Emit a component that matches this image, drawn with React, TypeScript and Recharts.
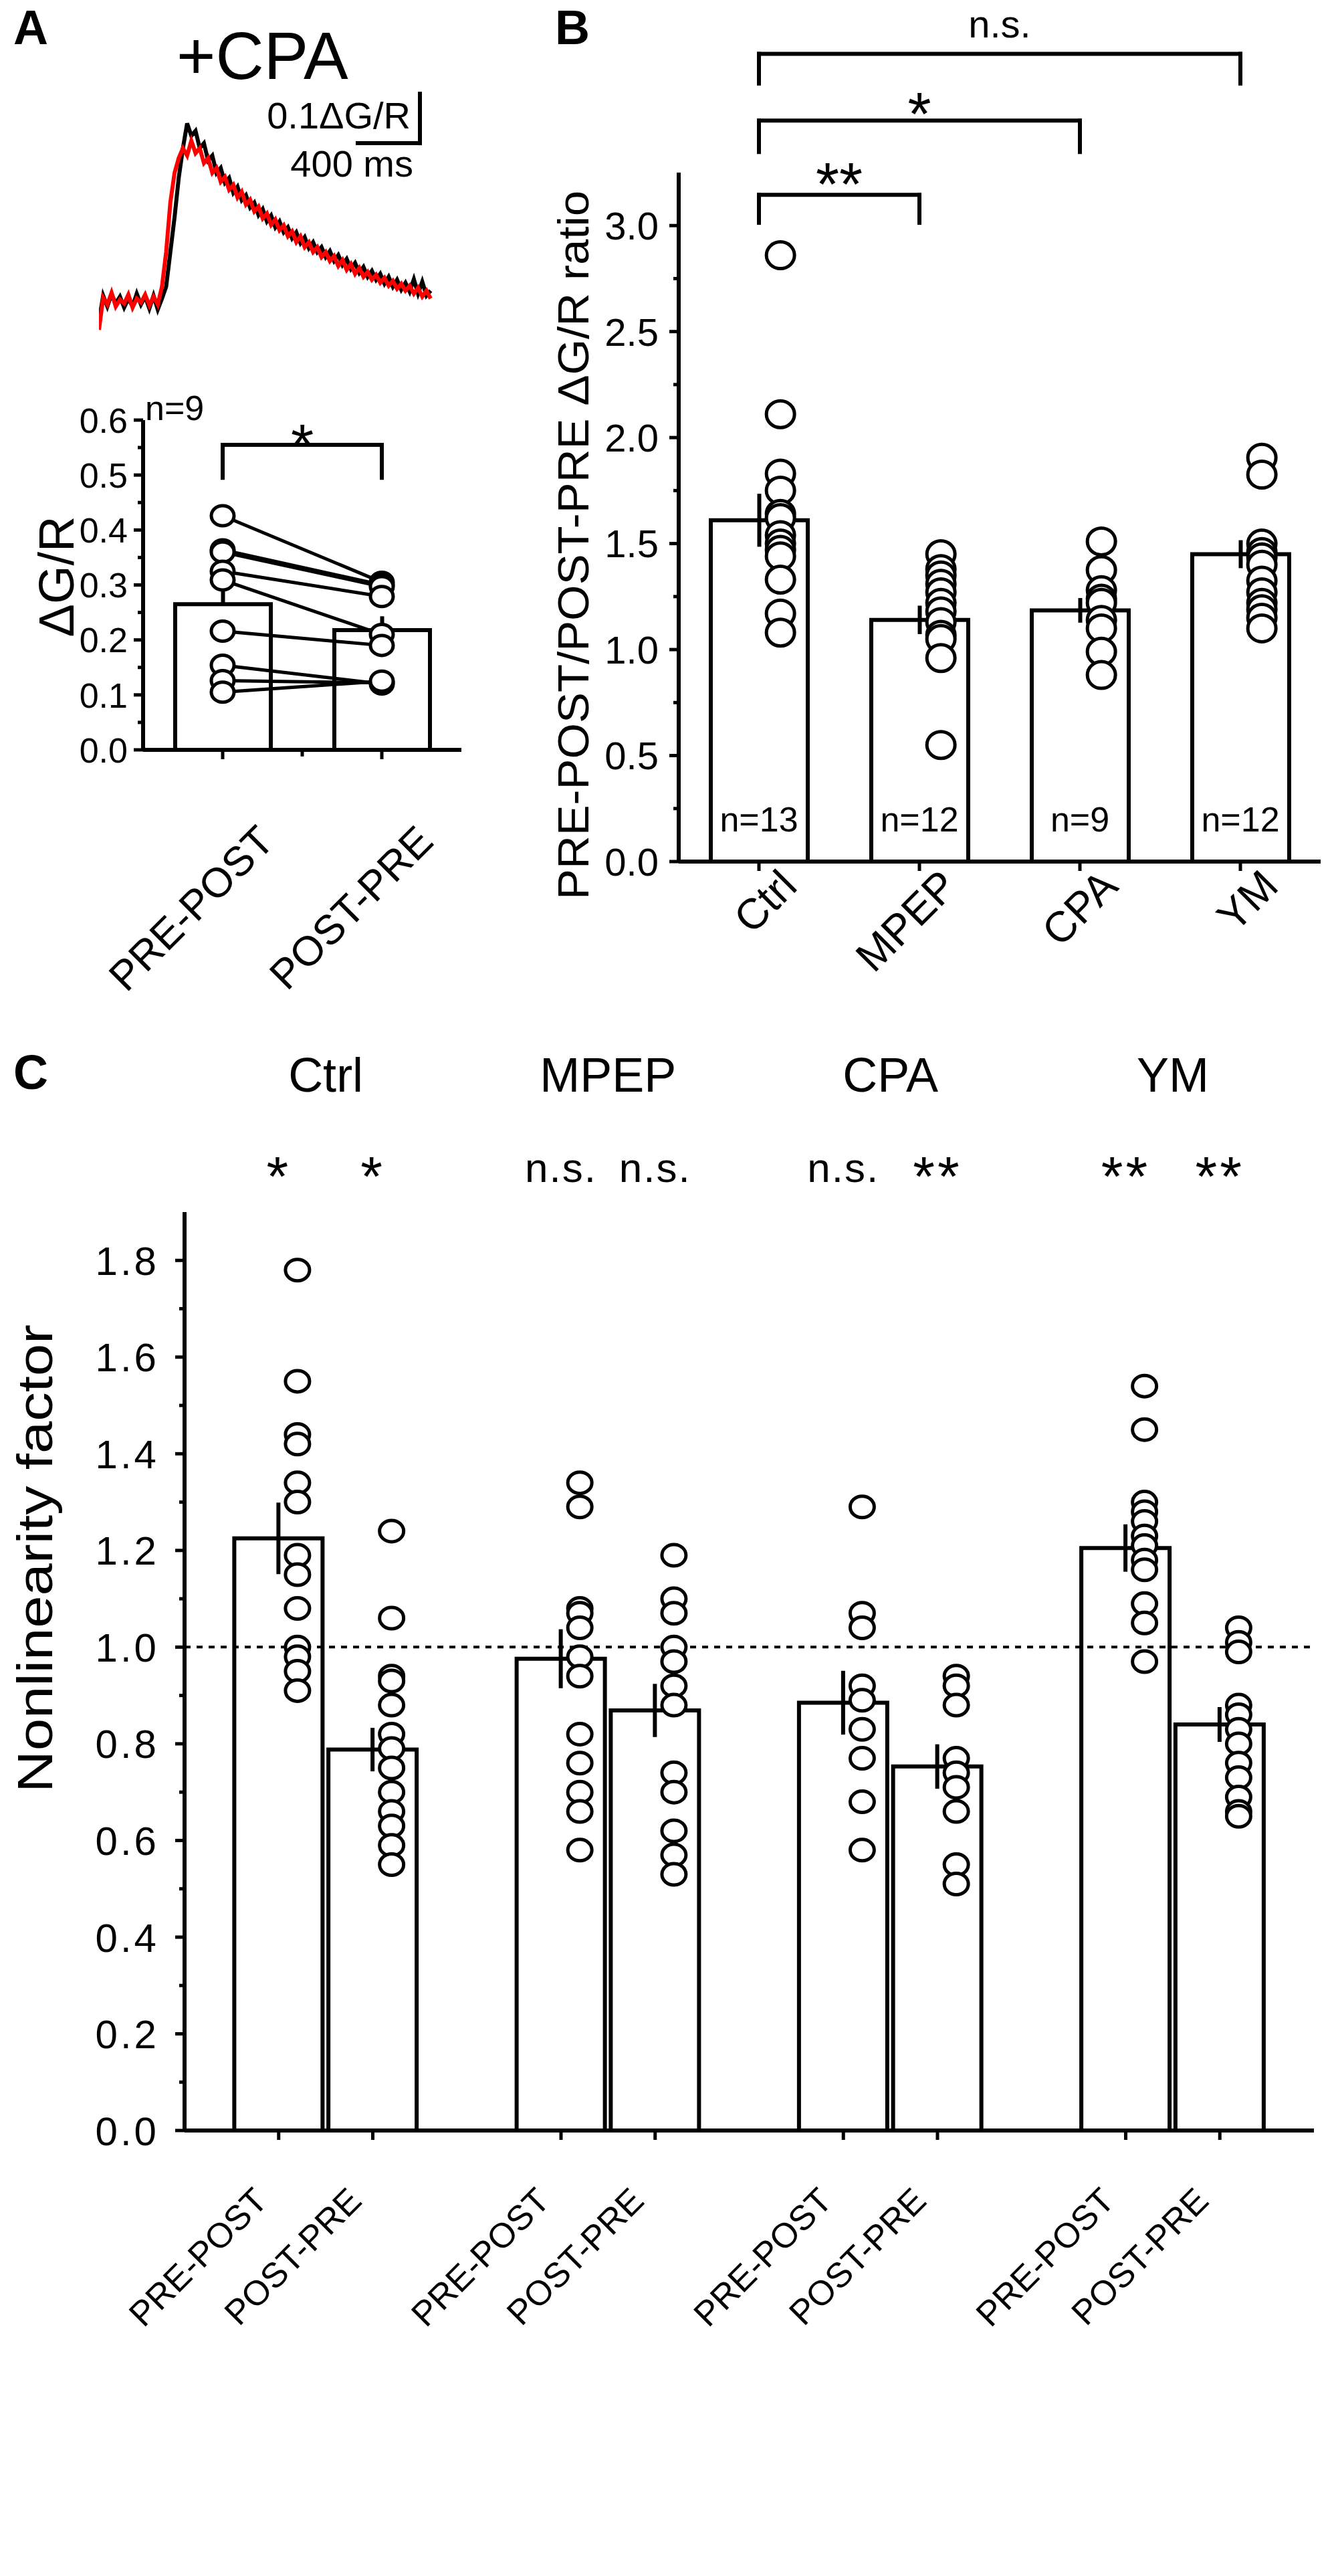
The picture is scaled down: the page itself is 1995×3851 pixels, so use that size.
import React from "react";
import {
  ComposedChart,
  LineChart,
  Line,
  Bar,
  Scatter,
  XAxis,
  YAxis,
  ErrorBar,
  ReferenceLine,
} from "recharts";

const FONT = "'Liberation Sans', Arial, Helvetica, sans-serif";

// ---------- panel A: example traces (+CPA), time in ms, ΔG/R ----------
const traceTime = [
  0, 27, 54, 81, 108, 135, 162, 189, 216, 243, 270, 297, 324, 351, 378, 405,
  432, 459, 486, 513, 540, 567, 594, 621, 648, 675, 702, 729, 756, 783, 810, 837,
  864, 891, 918, 945, 972, 999, 1026, 1053, 1080, 1107, 1134, 1161, 1188, 1215, 1242, 1269,
  1296, 1323, 1350, 1377, 1404, 1431, 1458, 1485, 1512, 1539, 1566, 1593, 1620, 1647, 1674, 1701,
  1728, 1755, 1782, 1809, 1836, 1863, 1890, 1917, 1944, 1971, 1998, 2025, 2052, 2079, 2106, 2133,
];
const tracePrePost = [
  -0.04, 0.012, -0.01, 0.015, -0.004, 0.01, -0.012, 0.006, -0.01, 0.016, -0.006, 0.01, -0.014, 0.012, -0.016, 0.006,
  0.03, 0.1, 0.17, 0.25, 0.31, 0.36, 0.335, 0.345, 0.31, 0.32, 0.285, 0.295, 0.26, 0.27, 0.24, 0.25,
  0.22, 0.232, 0.205, 0.215, 0.19, 0.2, 0.175, 0.187, 0.162, 0.174, 0.15, 0.162, 0.14, 0.15, 0.128, 0.14,
  0.118, 0.13, 0.108, 0.12, 0.1, 0.11, 0.09, 0.102, 0.082, 0.094, 0.074, 0.086, 0.066, 0.078, 0.058, 0.07,
  0.05, 0.062, 0.044, 0.056, 0.036, 0.05, 0.03, 0.044, 0.024, 0.038, 0.02, 0.045, 0.016, 0.04, 0.012, 0.022,
];
const tracePostPre = [
  -0.057, 0.008, -0.006, 0.018, -0.01, 0.004, -0.004, 0.014, -0.012, 0.006, -0.002, 0.014, -0.008, 0.01, -0.006, 0.03,
  0.1, 0.2, 0.26, 0.29, 0.31, 0.295, 0.325, 0.3, 0.31, 0.28, 0.29, 0.26, 0.27, 0.242, 0.252, 0.226,
  0.236, 0.21, 0.222, 0.196, 0.206, 0.182, 0.192, 0.168, 0.178, 0.155, 0.166, 0.144, 0.154, 0.132, 0.142, 0.12,
  0.132, 0.11, 0.12, 0.1, 0.11, 0.09, 0.1, 0.082, 0.092, 0.072, 0.084, 0.064, 0.076, 0.056, 0.068, 0.05,
  0.06, 0.044, 0.054, 0.038, 0.048, 0.032, 0.042, 0.026, 0.036, 0.022, 0.032, 0.016, 0.028, 0.01, 0.022, 0.006,
];
// scale bar: 0.1 ΔG/R, 400 ms
const scaleBar = { t0: 1664, t1: 2064, v0: 0.32, v1: 0.42 };

// ---------- panel A: paired ΔG/R ----------
const pairCats = ["PRE-POST", "POST-PRE"];
const cpaPre = [0.426, 0.364, 0.36, 0.325, 0.309, 0.216, 0.154, 0.126, 0.105];
const cpaPost = [0.305, 0.3, 0.297, 0.279, 0.21, 0.19, 0.12, 0.122, 0.125];
const cpaMeans = [0.265, 0.218];
const cpaSem = [0.031, 0.025];
const aTicks = [0, 0.05, 0.1, 0.15, 0.2, 0.25, 0.3, 0.35, 0.4, 0.45, 0.5, 0.55, 0.6];

// ---------- panel B: ratio ----------
const ratioCats = ["Ctrl", "MPEP", "CPA", "YM"];
const ratioMeans = [1.61, 1.14, 1.185, 1.45];
const ratioSem = [0.125, 0.067, 0.058, 0.066];
const ratioN = ["n=13", "n=12", "n=9", "n=12"];
const ratioCtrl = [2.86, 2.11, 1.83, 1.75, 1.64, 1.62, 1.54, 1.5, 1.47, 1.44, 1.33, 1.17, 1.08];
const ratioMpep = [1.45, 1.38, 1.35, 1.31, 1.27, 1.22, 1.18, 1.13, 1.07, 1.05, 0.96, 0.55];
const ratioCpa = [1.51, 1.375, 1.28, 1.24, 1.22, 1.14, 1.1, 0.99, 0.88];
const ratioYm = [1.905, 1.825, 1.5, 1.46, 1.435, 1.4, 1.325, 1.27, 1.22, 1.19, 1.15, 1.1];
const bTicks = [0, 0.25, 0.5, 0.75, 1, 1.25, 1.5, 1.75, 2, 2.25, 2.5, 2.75, 3];
// brackets: [from, to, top value, leg-end value, label]
const bBrackets = [
  ["Ctrl", "YM", 3.81, 3.67, "n.s."],
  ["Ctrl", "CPA", 3.495, 3.347, "*"],
  ["Ctrl", "MPEP", 3.145, 3.013, "**"],
];

// ---------- panel C: nonlinearity factor ----------
const nlGroups = ["Ctrl", "MPEP", "CPA", "YM"];
const nlConds = ["PRE-POST", "POST-PRE"];
const nlMeans = [1.225, 0.788, 0.976, 0.869, 0.885, 0.753, 1.205, 0.84];
const nlSem = [0.074, 0.045, 0.061, 0.055, 0.066, 0.046, 0.049, 0.036];
const nlSig = ["*", "*", "n.s.", "n.s.", "n.s.", "**", "**", "**"];
const nlPoints = [
  [1.78, 1.55, 1.44, 1.42, 1.34, 1.3, 1.19, 1.15, 1.08, 1.0, 0.98, 0.95, 0.91],
  [1.24, 1.06, 0.94, 0.93, 0.88, 0.82, 0.79, 0.75, 0.7, 0.66, 0.63, 0.59, 0.55],
  [1.34, 1.29, 1.08, 1.07, 1.04, 0.98, 0.94, 0.82, 0.76, 0.7, 0.66, 0.58],
  [1.19, 1.1, 1.07, 1.0, 0.97, 0.92, 0.88, 0.74, 0.7, 0.62, 0.57, 0.53],
  [1.29, 1.07, 1.04, 0.92, 0.89, 0.83, 0.77, 0.68, 0.58],
  [0.94, 0.92, 0.88, 0.77, 0.74, 0.71, 0.66, 0.55, 0.51],
  [1.54, 1.45, 1.3, 1.28, 1.26, 1.23, 1.21, 1.18, 1.16, 1.09, 1.05, 0.97],
  [1.04, 1.01, 0.99, 0.88, 0.86, 0.83, 0.8, 0.76, 0.73, 0.69, 0.66, 0.65],
];
const cTicks = [0, 0.1, 0.2, 0.3, 0.4, 0.5, 0.6, 0.7, 0.8, 0.9, 1, 1.1, 1.2, 1.3, 1.4, 1.5, 1.6, 1.7, 1.8];

// ---------- tables built from the arrays ----------
const traceData = traceTime.map((t, i) => ({ t, pp: tracePrePost[i], ppr: tracePostPre[i] }));

const pairData = pairCats.map((name, k) => {
  const row: any = { name, mean: cpaMeans[k], err: [0, cpaSem[k]] };
  (k === 0 ? cpaPre : cpaPost).forEach((v, i) => (row["s" + i] = v));
  return row;
});

const ratioData = ratioCats.map((name, k) => ({ name, mean: ratioMeans[k], sem: ratioSem[k] }));
const ratioPts = [ratioCtrl, ratioMpep, ratioCpa, ratioYm].flatMap((vals, k) =>
  vals.map((y) => ({ x: k + 0.134, y }))
);

const nlData: any[] = [];
const nlPts: any[] = [];
const nlSlots: number[] = [];
nlGroups.forEach((g, gi) => {
  nlConds.forEach((c, ci) => {
    const k = gi * 2 + ci;
    nlData.push({ key: "c" + nlData.length, label: c, mean: nlMeans[k], sem: nlSem[k] });
    const slot = nlData.length;
    nlSlots.push(slot);
    nlPoints[k].forEach((y) => nlPts.push({ x: slot + 0.2, y }));
  });
  if (gi < nlGroups.length - 1) nlData.push({ key: "c" + nlData.length, label: "", mean: null, sem: null });
});

// ---------- layout (page pixels) ----------
const A = { left: 214, right: 690, top: 628, bottom: 1121 };
const B = { left: 1015, right: 1975, top: 258, bottom: 1288 };
const C = { left: 276, right: 1965, top: 1812, bottom: 3185 };
const bBand = (B.right - B.left) / ratioCats.length;
const cUnit = (C.right - C.left) / 12;

// ---------- shared bits ----------
const axisLine = { stroke: "#000", strokeWidth: 6 };

function yTick(isMajor: (v: number) => boolean, fs: number, gap: number, majLen: number, minLen: number, ls = 0) {
  return (props: any) => {
    const { x, y, payload } = props;
    const v = payload.value;
    const major = isMajor(v);
    const len = major ? majLen : minLen;
    return (
      <g>
        <line x1={x - len} x2={x} y1={y} y2={y} stroke="#000" strokeWidth={5} />
        {major && (
          <text x={x - majLen - gap} y={y} dy="0.36em" textAnchor="end" fontSize={fs}
            fontFamily={FONT} fill="#000" letterSpacing={ls}>
            {v.toFixed(1)}
          </text>
        )}
      </g>
    );
  };
}

function xTick(labelOf: (v: any) => string, fs: number, dx: number, dy: number, len: number) {
  return (props: any) => {
    const { x, y, payload } = props;
    const label = labelOf(payload.value);
    if (!label) return <g />;
    const tx = x + dx;
    const ty = y + dy;
    return (
      <g>
        <line x1={x} x2={x} y1={y} y2={y + len} stroke="#000" strokeWidth={5} />
        <text x={tx} y={ty} textAnchor="end" transform={`rotate(-45 ${tx} ${ty})`}
          fontSize={fs} fontFamily={FONT} fill="#000">
          {label}
        </text>
      </g>
    );
  };
}

const ring = (r: number, ry: number, sw: number) => (props: any) => {
  const { cx, cy } = props;
  if (cx == null || cy == null) return <g />;
  return <ellipse cx={cx} cy={cy} rx={r} ry={ry} fill="#fff" stroke="#000" strokeWidth={sw} />;
};

const bracketLine = { stroke: "#000", strokeWidth: 6, strokeLinecap: "square" as const, ifOverflow: "visible" as const };

const T = (p: any) => (
  <text fontFamily={FONT} fill="#000" {...p}>
    {p.children}
  </text>
);

export default function App() {
  const aTop = 560;
  const bTop = 0;
  const cTop = 1690;
  return (
    <div style={{ position: "absolute", left: 0, top: 0, width: 1995, height: 3851, background: "#fff" }}>
      {/* A: traces */}
      <div style={{ position: "absolute", left: 148, top: 7 }}>
        <LineChart width={500} height={503} data={traceData} margin={{ top: 0, right: 0, bottom: 0, left: 0 }}>
          <XAxis dataKey="t" type="number" domain={[0, 2150]} hide />
          <YAxis type="number" domain={[-0.08, 0.6]} hide />
          <Line dataKey="pp" stroke="#000" strokeWidth={6} dot={false} isAnimationActive={false} />
          <Line dataKey="ppr" stroke="#ff0000" strokeWidth={6} dot={false} isAnimationActive={false} />
          <ReferenceLine segment={[{ x: scaleBar.t1, y: scaleBar.v0 }, { x: scaleBar.t1, y: scaleBar.v1 }]} {...bracketLine} />
          <ReferenceLine segment={[{ x: scaleBar.t0, y: scaleBar.v0 }, { x: scaleBar.t1, y: scaleBar.v0 }]} {...bracketLine} />
        </LineChart>
      </div>

      {/* A: paired bars */}
      <div style={{ position: "absolute", left: 0, top: aTop }}>
        <ComposedChart width={760} height={1000} data={pairData}
          margin={{ top: A.top - aTop, right: 760 - A.right, bottom: 20, left: 0 }}>
          <XAxis dataKey="name" height={1000 - 20 - (A.bottom - aTop)} axisLine={axisLine} tickLine={false}
            tickSize={0} tickMargin={0} interval={0} tick={xTick((v) => v, 62, 80, 140, 14)} />
          <XAxis xAxisId="mid" type="number" domain={[-0.5, 1.5]} hide />
          <YAxis type="number" domain={[0, 0.6]} ticks={aTicks} width={A.left} interval={0} axisLine={axisLine}
            tickLine={false} tickSize={0} tickMargin={0}
            tick={yTick((v) => Math.round(v * 100) % 10 === 0, 52, 9, 14, 8)} />
          <Bar dataKey="mean" fill="#fff" stroke="#000" strokeWidth={6} barSize={143} isAnimationActive={false}>
            <ErrorBar dataKey="err" width={0} stroke="#000" strokeWidth={6} direction="y" />
          </Bar>
          {cpaPre.map((_, i) => (
            <Line key={i} dataKey={"s" + i} stroke="#000" strokeWidth={5} dot={ring(17, 15, 5)}
              isAnimationActive={false} />
          ))}
          <ReferenceLine xAxisId="mid" segment={[{ x: 0.5, y: 0 }, { x: 0.5, y: -0.012 }]} stroke="#000"
            strokeWidth={5} ifOverflow="visible" />
          <ReferenceLine segment={[{ x: "PRE-POST", y: 0.495 }, { x: "PRE-POST", y: 0.555 }]} {...bracketLine} />
          <ReferenceLine segment={[{ x: "PRE-POST", y: 0.555 }, { x: "POST-PRE", y: 0.555 }]} {...bracketLine} />
          <ReferenceLine segment={[{ x: "POST-PRE", y: 0.495 }, { x: "POST-PRE", y: 0.555 }]} {...bracketLine} />
        </ComposedChart>
      </div>

      {/* B: ratio */}
      <div style={{ position: "absolute", left: 860, top: bTop }}>
        <ComposedChart width={1135} height={1560} data={ratioData}
          margin={{ top: B.top - bTop, right: 1995 - B.right, bottom: 24, left: 0 }}>
          <XAxis dataKey="name" height={1560 - 24 - B.bottom} axisLine={axisLine} tickLine={false} tickSize={0}
            tickMargin={0} interval={0} tick={xTick((v) => v, 64, 60, 40, 14)} />
          <XAxis xAxisId="pts" dataKey="x" type="number" domain={[-0.5, 3.5]} allowDataOverflow hide />
          <YAxis type="number" domain={[0, 3.25]} ticks={bTicks} width={B.left - 860} interval={0} axisLine={axisLine}
            tickLine={false} tickSize={0} tickMargin={0} allowDataOverflow
            tick={yTick((v) => Math.round(v * 100) % 50 === 0, 58, 16, 14, 8)} />
          <Bar dataKey="mean" fill="#fff" stroke="#000" strokeWidth={6} barSize={145} isAnimationActive={false}>
            <ErrorBar dataKey="sem" width={0} stroke="#000" strokeWidth={6} direction="y" />
          </Bar>
          <Scatter xAxisId="pts" data={ratioPts} dataKey="y" shape={ring(21, 20, 5)} isAnimationActive={false} />
          {bBrackets.map(([a, b, top, leg], i) => (
            <React.Fragment key={i}>
              <ReferenceLine segment={[{ x: a, y: leg }, { x: a, y: top }]} {...bracketLine} />
              <ReferenceLine segment={[{ x: a, y: top }, { x: b, y: top }]} {...bracketLine} />
              <ReferenceLine segment={[{ x: b, y: leg }, { x: b, y: top }]} {...bracketLine} />
            </React.Fragment>
          ))}
        </ComposedChart>
      </div>

      {/* C: nonlinearity */}
      <div style={{ position: "absolute", left: 0, top: cTop }}>
        <ComposedChart width={1995} height={3851 - cTop} data={nlData}
          margin={{ top: C.top - cTop, right: 1995 - C.right, bottom: 26, left: 0 }}>
          <XAxis dataKey="key" height={3851 - cTop - 26 - (C.bottom - cTop)} axisLine={axisLine} tickLine={false}
            tickSize={0} tickMargin={0} interval={0} padding={{ left: cUnit / 2, right: cUnit / 2 }}
            tick={xTick((v) => (nlData.find((d) => d.key === v) || {}).label, 52, -14, 108, 14)} />
          <XAxis xAxisId="pts" dataKey="x" type="number" domain={[0, 12]} allowDataOverflow hide />
          <YAxis type="number" domain={[0, 1.9]} ticks={cTicks} width={C.left} interval={0} axisLine={axisLine}
            tickLine={false} tickSize={0} tickMargin={0} allowDataOverflow
            tick={yTick((v) => Math.round(v * 10) % 2 === 0, 60, 24, 14, 8, 4)} />
          <ReferenceLine y={1} stroke="#000" strokeWidth={4} strokeDasharray="9 9" />
          <Bar dataKey="mean" fill="#fff" stroke="#000" strokeWidth={6} barSize={132} isAnimationActive={false}>
            <ErrorBar dataKey="sem" width={0} stroke="#000" strokeWidth={6} direction="y" />
          </Bar>
          <Scatter xAxisId="pts" data={nlPts} dataKey="y" shape={ring(18, 16, 5)} isAnimationActive={false} />
        </ComposedChart>
      </div>

      {/* text overlay */}
      <svg width={1995} height={3851} style={{ position: "absolute", left: 0, top: 0, pointerEvents: "none" }}>
        <T x={20} y={66} fontSize={72} fontWeight="bold">A</T>
        <T x={264} y={118} fontSize={100}>+CPA</T>
        <T x={614} y={192} fontSize={56} textAnchor="end">0.1ΔG/R</T>
        <T x={618} y={264} fontSize={56} textAnchor="end">400 ms</T>
        <T x={217} y={628} fontSize={52}>n=9</T>
        <T x={(A.left + A.right) / 2} y={695} fontSize={88} textAnchor="middle">*</T>
        <T x={110} y={862} fontSize={74} textAnchor="middle" transform="rotate(-90 110 862)">ΔG/R</T>

        <T x={830} y={66} fontSize={72} fontWeight="bold">B</T>
        <T x={880} y={815} fontSize={64} textAnchor="middle" textLength={1060} lengthAdjust="spacingAndGlyphs"
          transform="rotate(-90 880 815)">PRE-POST/POST-PRE ΔG/R ratio</T>
        <T x={B.left + bBand * 2} y={56} fontSize={58} textAnchor="middle">{bBrackets[0][4]}</T>
        <T x={B.left + bBand * 1.5} y={202} fontSize={90} textAnchor="middle">{bBrackets[1][4]}</T>
        <T x={B.left + bBand} y={307} fontSize={90} textAnchor="middle">{bBrackets[2][4]}</T>
        {ratioN.map((n, i) => (
          <T key={n + i} x={B.left + bBand * (i + 0.5)} y={1243} fontSize={52} textAnchor="middle">{n}</T>
        ))}

        <T x={20} y={1628} fontSize={72} fontWeight="bold">C</T>
        {nlGroups.map((g, i) => (
          <T key={g} x={C.left + cUnit * (1.5 + i * 3)} y={1632} fontSize={72} textAnchor="middle">{g}</T>
        ))}
        {nlSig.map((s, k) => {
          const star = s !== "n.s.";
          return (
            <T key={k} x={C.left + nlSlots[k] * cUnit} y={star ? 1788 : 1767} fontSize={star ? 84 : 62}
              textAnchor="middle" letterSpacing={star ? 4 : 2}>{s}</T>
          );
        })}
        <T x={78} y={2330} fontSize={74} textAnchor="middle" textLength={700} lengthAdjust="spacingAndGlyphs"
          transform="rotate(-90 78 2330)">Nonlinearity factor</T>
      </svg>
    </div>
  );
}
